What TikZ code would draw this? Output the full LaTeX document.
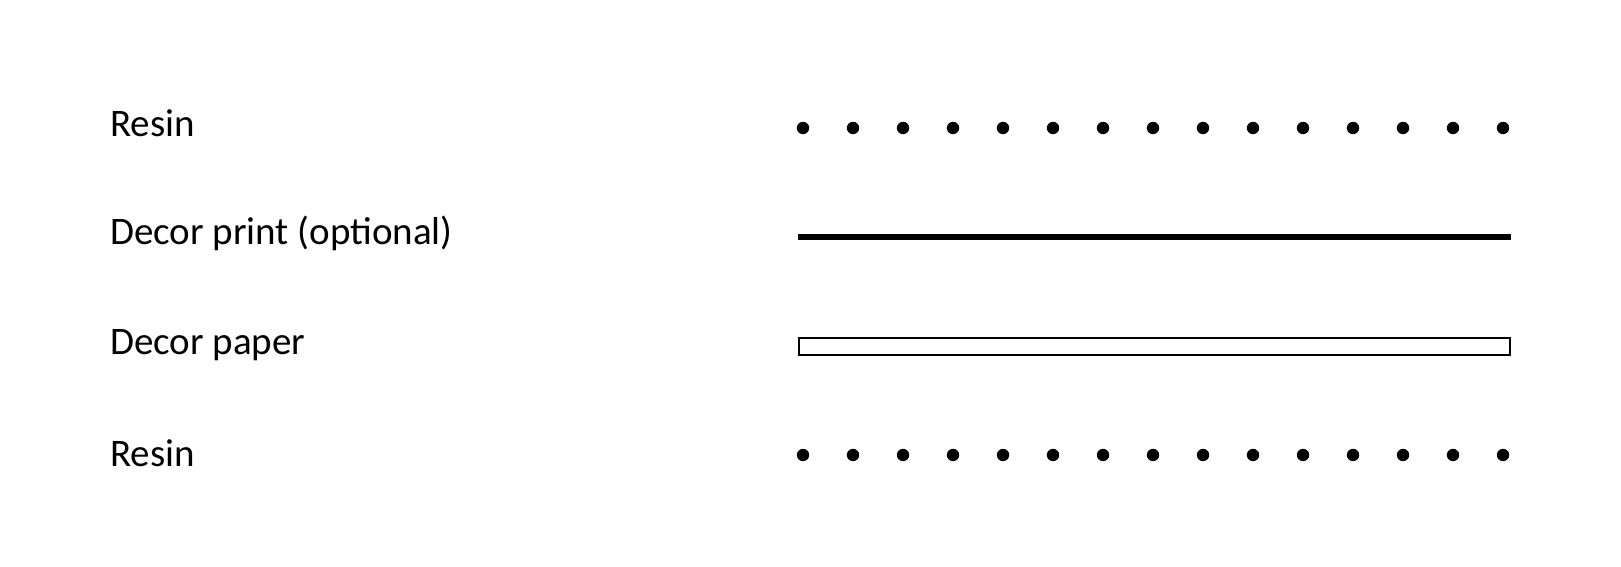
\documentclass[tikz,border=0pt]{standalone}
\usepackage{fontspec}
\setmainfont{Carlito}
\usepackage{tikz}
\usetikzlibrary{positioning}
\tikzset{layer/.style={anchor=base west, inner sep=0pt, font=\fontsize{39}{44}\selectfont}}
\tikzset{grain/.style={fill=black}}

\begin{document}
\begin{tikzpicture}[x=1pt,y=1pt]
  \useasboundingbox (0,0) rectangle (1621,567);

  \node[layer] (resintop) at (110,430) {Resin};
  \node[layer] (print) at (110,322) {Decor print (optional)};
  \node[layer] (paper) at (110,212) {Decor paper};
  \node[layer] (resinbot) at (110,100) {Resin};

  \foreach \x in {0,...,14}{
               \fill[grain] (803+50*\x,439) circle (6.2);
               \fill[grain] (803+50*\x,112) circle (6.2);
};
  \coordinate (printl) at (798,330);
  \coordinate (printr) at (1511,330);
  \draw[line width=6pt] (printl)--(printr);
  \draw[line width=1.5pt] (799,212) rectangle (1510,229);
\end{tikzpicture}
\end{document}
